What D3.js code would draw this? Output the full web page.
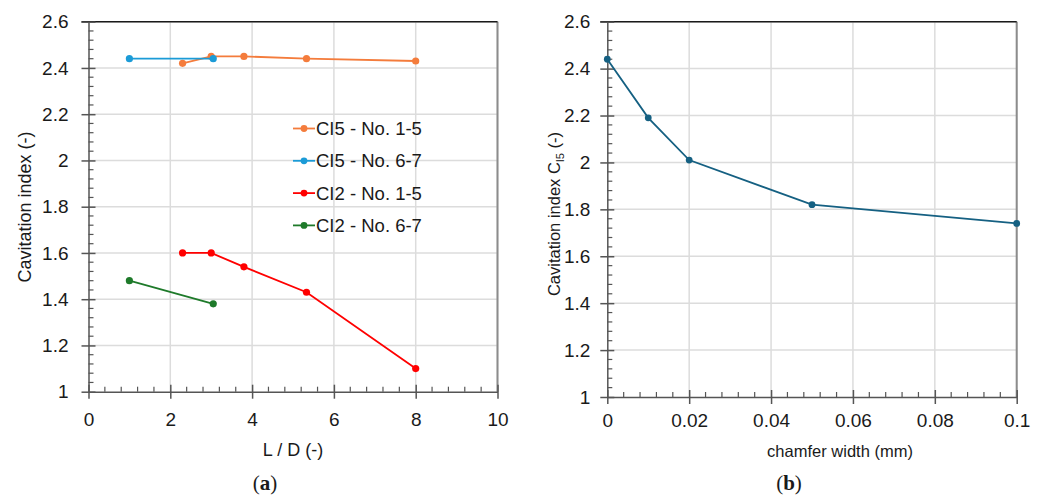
<!DOCTYPE html>
<html>
<head>
<meta charset="utf-8">
<script src="https://cdn.jsdelivr.net/npm/d3@7"></script>
<style>
  html, body { margin: 0; padding: 0; background: #fff; }
  svg { display: block; }
</style>
</head>
<body>
<svg id="fig" width="1045" height="496"></svg>
<script>
// Panel (a): cavitation index vs L/D
const ci5A_x = [2.3, 3.0, 3.8, 5.33, 8.0];
const ci5A_y = [2.42, 2.45, 2.45, 2.44, 2.43];
const ci5B_x = [1.0, 3.05];
const ci5B_y = [2.44, 2.44];
const ci2A_x = [2.3, 3.0, 3.8, 5.33, 8.0];
const ci2A_y = [1.60, 1.60, 1.54, 1.43, 1.10];
const ci2B_x = [1.0, 3.05];
const ci2B_y = [1.48, 1.38];
const seriesNames = ["CI5 - No. 1-5", "CI5 - No. 6-7", "CI2 - No. 1-5", "CI2 - No. 6-7"];
const seriesColors = ["#f47c3c", "#1b9bd7", "#ff0000", "#1e7a2a"];
const ldTicks = [0, 2, 4, 6, 8, 10];

// Panel (b): cavitation index CI5 vs chamfer width
const chamfer = [0, 0.01, 0.02, 0.05, 0.1];
const ciChamfer = [2.44, 2.19, 2.01, 1.82, 1.74];
const chamferTicks = [0, 0.02, 0.04, 0.06, 0.08, 0.1];
const chamferTickLabels = ["0", "0.02", "0.04", "0.06", "0.08", "0.1"];

const yTicks = [1, 1.2, 1.4, 1.6, 1.8, 2, 2.2, 2.4, 2.6];
const yTickLabels = ["1", "1.2", "1.4", "1.6", "1.8", "2", "2.2", "2.4", "2.6"];

const SANS = "'Liberation Sans', Arial, sans-serif";
const SERIF = "'Liberation Serif', 'Times New Roman', serif";
const INK = "#1a1a1a";

const svg = d3.select("#fig");

function panel(opts) {
  const { xr, yr, xDomain, xTicks, xLabels, xMinorStep, yPad, xPad } = opts;
  const x = d3.scaleLinear().domain(xDomain).range(xr);
  const y = d3.scaleLinear().domain([1, 2.6]).range(yr);
  const g = svg.append("g");

  // gridlines
  g.append("g").selectAll("line").data(xTicks.slice(1)).join("line")
    .attr("x1", d => x(d)).attr("x2", d => x(d))
    .attr("y1", yr[0]).attr("y2", yr[1])
    .attr("stroke", "#dcdcdc").attr("stroke-width", 1.5);
  g.append("g").selectAll("line").data(yTicks.slice(1)).join("line")
    .attr("x1", xr[0]).attr("x2", xr[1])
    .attr("y1", d => y(d)).attr("y2", d => y(d))
    .attr("stroke", "#dcdcdc").attr("stroke-width", 1.5);

  // frame: right edge grey, top edge dark
  g.append("line").attr("x1", xr[1]).attr("x2", xr[1]).attr("y1", yr[0]).attr("y2", yr[1])
    .attr("stroke", "#8c8c8c").attr("stroke-width", 2);
  g.append("line").attr("x1", xr[0] - 7).attr("x2", xr[1]).attr("y1", yr[1]).attr("y2", yr[1])
    .attr("stroke", INK).attr("stroke-width", 1.5);

  // minor ticks (inside)
  const yMinor = d3.range(1, 2.6001, 0.04).filter(v => Math.abs(v * 5 - Math.round(v * 5)) > 1e-6);
  g.append("g").selectAll("line").data(yMinor).join("line")
    .attr("x1", xr[0]).attr("x2", xr[0] + 5)
    .attr("y1", d => y(d)).attr("y2", d => y(d))
    .attr("stroke", "#555").attr("stroke-width", 1.2);
  const xMinor = d3.range(xDomain[0], xDomain[1] + 1e-9, xMinorStep)
    .filter(v => xTicks.every(t => Math.abs(t - v) > xMinorStep / 10));
  g.append("g").selectAll("line").data(xMinor).join("line")
    .attr("x1", d => x(d)).attr("x2", d => x(d))
    .attr("y1", yr[0]).attr("y2", yr[0] - 5)
    .attr("stroke", "#555").attr("stroke-width", 1.2);

  // axes with major ticks crossing the axis line
  const yAxis = d3.axisLeft(y).tickValues(yTicks).tickFormat((d, i) => yTickLabels[i])
    .tickSizeInner(7).tickSizeOuter(0).tickPadding(yPad);
  const ya = g.append("g").attr("transform", `translate(${xr[0]},0)`).call(yAxis);
  ya.select(".domain").attr("stroke", "#555").attr("stroke-width", 1.5);
  ya.selectAll(".tick line").attr("stroke", "#555").attr("stroke-width", 1.5).attr("x2", -7).attr("x1", 7);
  ya.selectAll(".tick text").style("font-size", "19px").style("fill", INK).style("font-family", SANS);

  const xAxis = d3.axisBottom(x).tickValues(xTicks).tickFormat((d, i) => xLabels[i])
    .tickSizeInner(7).tickSizeOuter(0).tickPadding(xPad);
  const xa = g.append("g").attr("transform", `translate(0,${yr[0]})`).call(xAxis);
  xa.select(".domain").attr("stroke", "#555").attr("stroke-width", 1.5);
  xa.selectAll(".tick line").attr("stroke", "#555").attr("stroke-width", 1.5).attr("y1", -7).attr("y2", 7);
  xa.selectAll(".tick text").style("font-size", "19px").style("fill", INK).style("font-family", SANS);

  return { g, x, y };
}

function drawSeries(p, xs, ys, color, r) {
  const pts = xs.map((v, i) => [v, ys[i]]);
  const line = d3.line().x(d => p.x(d[0])).y(d => p.y(d[1]));
  p.g.append("path").datum(pts).attr("d", line)
    .attr("fill", "none").attr("stroke", color).attr("stroke-width", 1.8);
  p.g.append("g").selectAll("circle").data(pts).join("circle")
    .attr("cx", d => p.x(d[0])).attr("cy", d => p.y(d[1])).attr("r", r)
    .attr("fill", color);
}

function label(x, y, size, txt, rotate) {
  return svg.append("text")
    .attr("transform", rotate ? `translate(${x},${y}) rotate(-90)` : `translate(${x},${y})`)
    .attr("text-anchor", "middle")
    .style("font-family", SANS).style("font-size", size + "px").style("fill", INK)
    .text(txt);
}

// ---- panel (a)
const pa = panel({
  xr: [88.5, 497.5], yr: [391.7, 21.7], xDomain: [0, 10],
  xTicks: ldTicks, xLabels: ldTicks.map(String), xMinorStep: 0.4, yPad: 13, xPad: 14
});
const aSeries = [[ci5A_x, ci5A_y], [ci5B_x, ci5B_y], [ci2A_x, ci2A_y], [ci2B_x, ci2B_y]];
aSeries.forEach((s, i) => drawSeries(pa, s[0], s[1], seriesColors[i], 3.6));

// legend
const leg = pa.g.append("g");
seriesNames.forEach((name, i) => {
  const yy = 128.5 + i * 32.3;
  leg.append("line").attr("x1", 293).attr("x2", 315).attr("y1", yy).attr("y2", yy)
    .attr("stroke", seriesColors[i]).attr("stroke-width", 1.8);
  leg.append("circle").attr("cx", 304).attr("cy", yy).attr("r", 3.4).attr("fill", seriesColors[i]);
  leg.append("text").attr("x", 316).attr("y", yy).attr("dy", "0.36em")
    .style("font-family", SANS).style("font-size", "18.5px").style("fill", INK).text(name);
});

label(31, 207, 18, "Cavitation index (-)", true);
label(293, 456, 18, "L / D (-)", false);

// ---- panel (b)
const pb = panel({
  xr: [607.3, 1016.7], yr: [397, 21.7], xDomain: [0, 0.1],
  xTicks: chamferTicks, xLabels: chamferTickLabels, xMinorStep: 0.004, yPad: 10, xPad: 10
});
drawSeries(pb, chamfer, ciChamfer, "#156082", 3.4);

const yl = label(560, 214, 16.5, "", true);
yl.append("tspan").text("Cavitation index C");
yl.append("tspan").style("font-size", "11px").attr("dy", 4).text("I5");
yl.append("tspan").attr("dy", -4).text(" (-)");
label(840, 457, 16.5, "chamfer width (mm)", false);

// panel captions
[["a", 265], ["b", 789]].forEach(([letter, cx]) => {
  const cap = svg.append("text").attr("x", cx).attr("y", 490).attr("text-anchor", "middle")
    .style("font-family", SERIF).style("font-size", "21px").style("fill", INK);
  cap.append("tspan").text("(");
  cap.append("tspan").style("font-weight", "bold").text(letter);
  cap.append("tspan").text(")");
});
</script>
</body>
</html>
